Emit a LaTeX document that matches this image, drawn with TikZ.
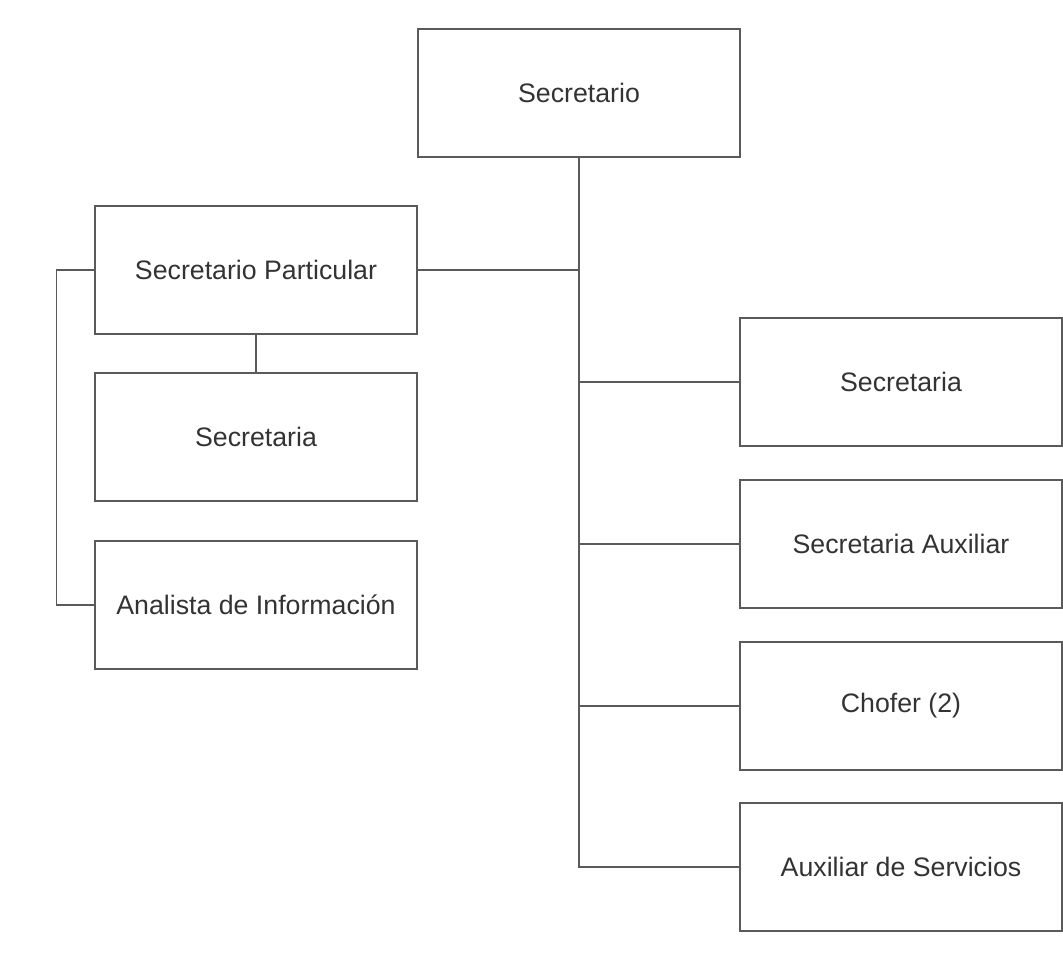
\documentclass[tikz,border=0pt]{standalone}
\usepackage{fontspec}
\setmainfont{Liberation Sans}
\definecolor{linegray}{HTML}{5A5A5A}
\definecolor{textgray}{HTML}{333333}
\tikzset{
    box/.style = {draw = linegray, line width = 0.9pt, minimum width = 8.05cm, minimum height = 3.2cm,
        inner sep = 0pt, text = textgray, font = \fontsize{19}{23}\selectfont},
    link/.style = {draw = linegray, line width = 0.9pt}
}
\begin{document}
\begin{tikzpicture}[x = 0.025cm, y = -0.025cm]
        \useasboundingbox (0,0) rectangle (1063,952);
        \node[box] (secr) at (579,93) {Secretario};
        \node[box] (part) at (256,270) {Secretario Particular};
        \node[box] (secl) at (256,437) {Secretaria};
        \node[box] (anal) at (256,605) {Analista de Información};
        \node[box] (secd) at (901,382) {Secretaria};
        \node[box] (auxi) at (901,544) {Secretaria Auxiliar};
        \node[box] (chof) at (901,706) {Chofer (2)};
        \node[box] (serv) at (901,867) {Auxiliar de Servicios};
        \coordinate (trunk) at (secr.south |- serv.west);
        \draw[link] (secr.south) -- (trunk) -- (serv.west);
        \draw[link] (part.east) -- (secr.south |- part.east);
        \foreach \n in {secd, auxi, chof}
            \draw[link] (secr.south |- \n.west) -- (\n.west);
        \draw[link] (part.south) -- (secl.north);
        \draw[link] (part.west) -- ++(-38,0) |- (anal.west);
    \end{tikzpicture}
\end{document}
